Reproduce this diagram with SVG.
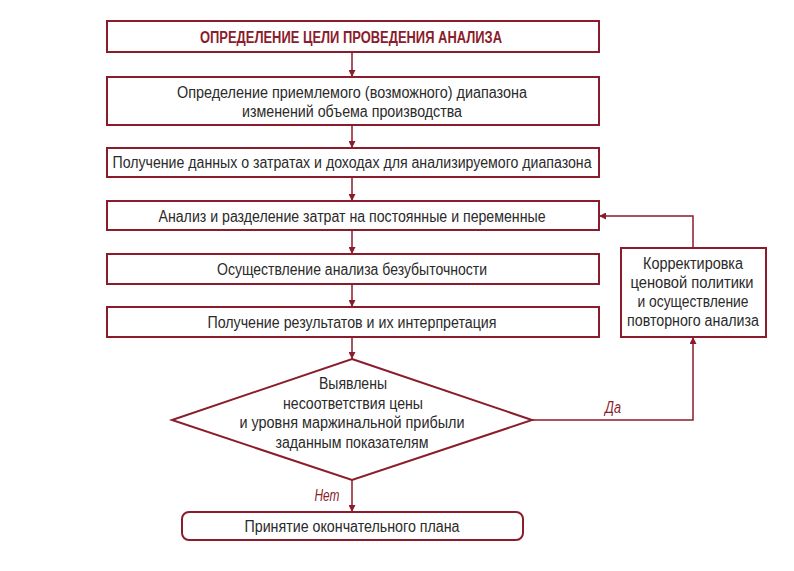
<svg xmlns="http://www.w3.org/2000/svg" width="794" height="571" viewBox="0 0 794 571">
<defs>
<style>
.box{fill:#fff;stroke:#8b1c2c;stroke-width:2}
.t{font-family:"Liberation Sans",Arial,sans-serif;font-size:16px;fill:#2a2a2a;text-anchor:middle;dominant-baseline:central}
.title{font-weight:bold;fill:#8b1c2c}
.lbl{font-family:"Liberation Sans",Arial,sans-serif;font-size:16px;font-style:italic;fill:#8b1c2c;text-anchor:middle;dominant-baseline:central}
.c{fill:none;stroke:#8b1c2c;stroke-width:1.5;marker-end:url(#ah)}
</style>
<marker id="ah" viewBox="0 0 10 10" refX="10" refY="5" markerWidth="7" markerHeight="7" markerUnits="userSpaceOnUse" orient="auto"><path d="M0,0 L10,5 L0,10 z" fill="#8b1c2c"/></marker>
</defs>
<rect width="794" height="571" fill="#fff"/>
<g id="connectors">
<line class="c" x1="352" y1="52" x2="352" y2="77"/>
<line class="c" x1="352" y1="125" x2="352" y2="148"/>
<line class="c" x1="352" y1="177" x2="352" y2="201"/>
<line class="c" x1="352" y1="230" x2="352" y2="254"/>
<line class="c" x1="352" y1="284" x2="352" y2="307"/>
<line class="c" x1="352" y1="337" x2="352" y2="359"/>
<line class="c" x1="352" y1="480" x2="352" y2="512"/>
<polyline class="c" points="532,420 693,420 693,337"/>
<polyline class="c" points="693,248 693,216 599,216"/>
<text class="lbl" x="613" y="407" textLength="16" lengthAdjust="spacingAndGlyphs">Да</text>
<text class="lbl" x="327" y="495" textLength="25" lengthAdjust="spacingAndGlyphs">Нет</text>
</g>
<g id="n1"><rect class="box" x="107" y="21" width="492" height="31"/><text class="t title" x="351" y="37" textLength="302" lengthAdjust="spacingAndGlyphs">ОПРЕДЕЛЕНИЕ ЦЕЛИ ПРОВЕДЕНИЯ АНАЛИЗА</text></g>
<g id="n2"><rect class="box" x="107" y="77" width="492" height="48"/><text class="t" x="352" y="92" textLength="350" lengthAdjust="spacingAndGlyphs">Определение приемлемого (возможного) диапазона</text><text class="t" x="352" y="111" textLength="220" lengthAdjust="spacingAndGlyphs">изменений объема производства</text></g>
<g id="n3"><rect class="box" x="107" y="148" width="492" height="29"/><text class="t" x="352" y="162" textLength="479" lengthAdjust="spacingAndGlyphs">Получение данных о затратах и доходах для анализируемого диапазона</text></g>
<g id="n4"><rect class="box" x="107" y="201" width="492" height="29"/><text class="t" x="352" y="216" textLength="387" lengthAdjust="spacingAndGlyphs">Анализ и разделение затрат на постоянные и переменные</text></g>
<g id="n5"><rect class="box" x="107" y="254" width="492" height="30"/><text class="t" x="352" y="269" textLength="270" lengthAdjust="spacingAndGlyphs">Осуществление анализа безубыточности</text></g>
<g id="n6"><rect class="box" x="107" y="307" width="492" height="30"/><text class="t" x="352" y="322" textLength="289" lengthAdjust="spacingAndGlyphs">Получение результатов и их интерпретация</text></g>
<g id="n7"><polygon class="box" points="352,359 532,420 352,480 172,420"/>
<text class="t" x="353" y="383" textLength="68" lengthAdjust="spacingAndGlyphs">Выявлены</text><text class="t" x="353" y="403" textLength="140" lengthAdjust="spacingAndGlyphs">несоответствия цены</text><text class="t" x="352" y="422" textLength="225" lengthAdjust="spacingAndGlyphs">и уровня маржинальной прибыли</text><text class="t" x="352" y="442" textLength="153" lengthAdjust="spacingAndGlyphs">заданным показателям</text></g>
<g id="n8"><rect class="box" x="182" y="512" width="341" height="28" rx="7"/><text class="t" x="352" y="526" textLength="215" lengthAdjust="spacingAndGlyphs">Принятие окончательного плана</text></g>
<g id="n9"><rect class="box" x="621" y="248" width="145" height="89"/>
<text class="t" x="693" y="263" textLength="100" lengthAdjust="spacingAndGlyphs">Корректировка</text><text class="t" x="692" y="282" textLength="123" lengthAdjust="spacingAndGlyphs">ценовой политики</text><text class="t" x="693" y="301" textLength="111" lengthAdjust="spacingAndGlyphs">и осуществление</text><text class="t" x="693" y="320" textLength="132" lengthAdjust="spacingAndGlyphs">повторного анализа</text></g>
</svg>
